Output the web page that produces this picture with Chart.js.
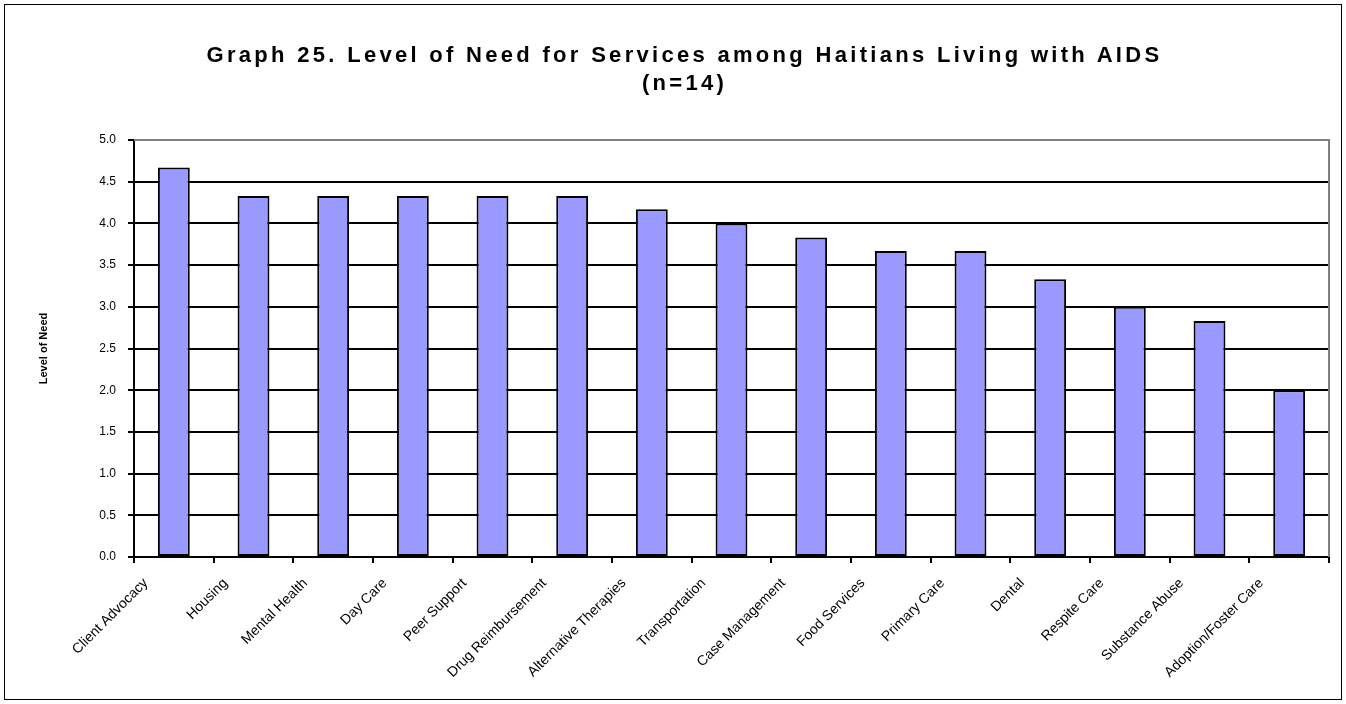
<!DOCTYPE html>
<html>
<head>
<meta charset="utf-8">
<script src="https://cdn.jsdelivr.net/npm/chart.js@4"></script>
<style>
  html, body { margin: 0; padding: 0; background: #fff; }
  #wrap { position: relative; width: 1346px; height: 704px; }
  #frame {
    position: absolute; left: 4px; top: 4px; right: 4px; bottom: 4px;
    border: 1px solid #000; box-sizing: border-box; pointer-events: none;
  }
  #title {
    position: absolute; left: 0; width: 1369px; top: 41px;
    text-align: center; font: bold 22px "Liberation Sans Narrow", "Liberation Sans", Arial, sans-serif;
    letter-spacing: 3.3px; line-height: 28px; color: #000;
  }
  canvas { position: absolute; left: 0; top: 0; }
</style>
</head>
<body>
<div id="wrap">
  <canvas id="graph25" width="1346" height="704"></canvas>
  <div id="title">Graph 25. Level of Need for Services among Haitians Living with AIDS<br>(n=14)</div>
  <div id="frame"></div>
</div>
<script>
  const services = [
    'Client Advocacy', 'Housing', 'Mental Health', 'Day Care', 'Peer Support',
    'Drug Reimbursement', 'Alternative Therapies', 'Transportation', 'Case Management',
    'Food Services', 'Primary Care', 'Dental', 'Respite Care', 'Substance Abuse',
    'Adoption/Foster Care'
  ];
  const needLevel = [4.67, 4.33, 4.33, 4.33, 4.33, 4.33, 4.17, 4.0, 3.83, 3.67, 3.67, 3.33, 3.0, 2.83, 2.0];
  const yTicks = [0, 0.5, 1, 1.5, 2, 2.5, 3, 3.5, 4, 4.5, 5];

  // gray frame on the top and right of the plot area
  const plotBorder = {
    id: 'plotBorder',
    afterDraw(chart) {
      const { ctx, chartArea: a } = chart;
      ctx.save();
      ctx.strokeStyle = '#808080';
      ctx.lineWidth = 2;
      ctx.beginPath();
      ctx.moveTo(a.left, a.top);
      ctx.lineTo(a.right, a.top);
      ctx.lineTo(a.right, a.bottom);
      ctx.stroke();
      ctx.restore();
    }
  };

  const ctx = document.getElementById('graph25').getContext('2d');
  new Chart(ctx, {
    type: 'bar',
    data: {
      labels: services,
      datasets: [{
        label: 'Level of Need',
        data: needLevel,
        backgroundColor: '#9999ff',
        borderColor: '#000000',
        borderWidth: 2,
        borderSkipped: false,
        barPercentage: 0.4,
        categoryPercentage: 1
      }]
    },
    options: {
      responsive: false,
      animation: false,
      layout: { padding: { left: 33, top: 140, right: 17, bottom: 0 } },
      scales: {
        x: {
          afterFit: (s) => { s.height = 147; },
          grid: { drawOnChartArea: false, color: '#000', lineWidth: 2, tickLength: 6, offset: true },
          border: { color: '#000', width: 2 },
          ticks: {
            autoSkip: false,
            minRotation: 45,
            maxRotation: 45,
            labelOffset: -28,
            padding: 12,
            color: '#000',
            font: { family: '"Liberation Sans", Arial, sans-serif', size: 14 }
          }
        },
        y: {
          min: 0,
          max: 5,
          afterFit: (s) => { s.width = 101; },
          afterBuildTicks: (s) => { s.ticks = yTicks.map(v => ({ value: v })); },
          grid: {
            color: (c) => (c.tick && c.tick.value === 5 ? 'rgba(0,0,0,0)' : '#000'),
            lineWidth: 2,
            tickLength: 6,
            tickColor: '#000'
          },
          border: { color: '#000', width: 2 },
          title: {
            display: true,
            text: 'Level of Need',
            color: '#000',
            font: { family: '"Liberation Sans", Arial, sans-serif', size: 11, weight: 'bold' }
          },
          ticks: {
            padding: 12,
            color: '#000',
            callback: (v) => Number(v).toFixed(1),
            font: { family: '"Liberation Sans", Arial, sans-serif', size: 12 }
          }
        }
      },
      plugins: {
        legend: { display: false },
        tooltip: { enabled: false }
      }
    },
    plugins: [plotBorder]
  });
</script>
</body>
</html>
